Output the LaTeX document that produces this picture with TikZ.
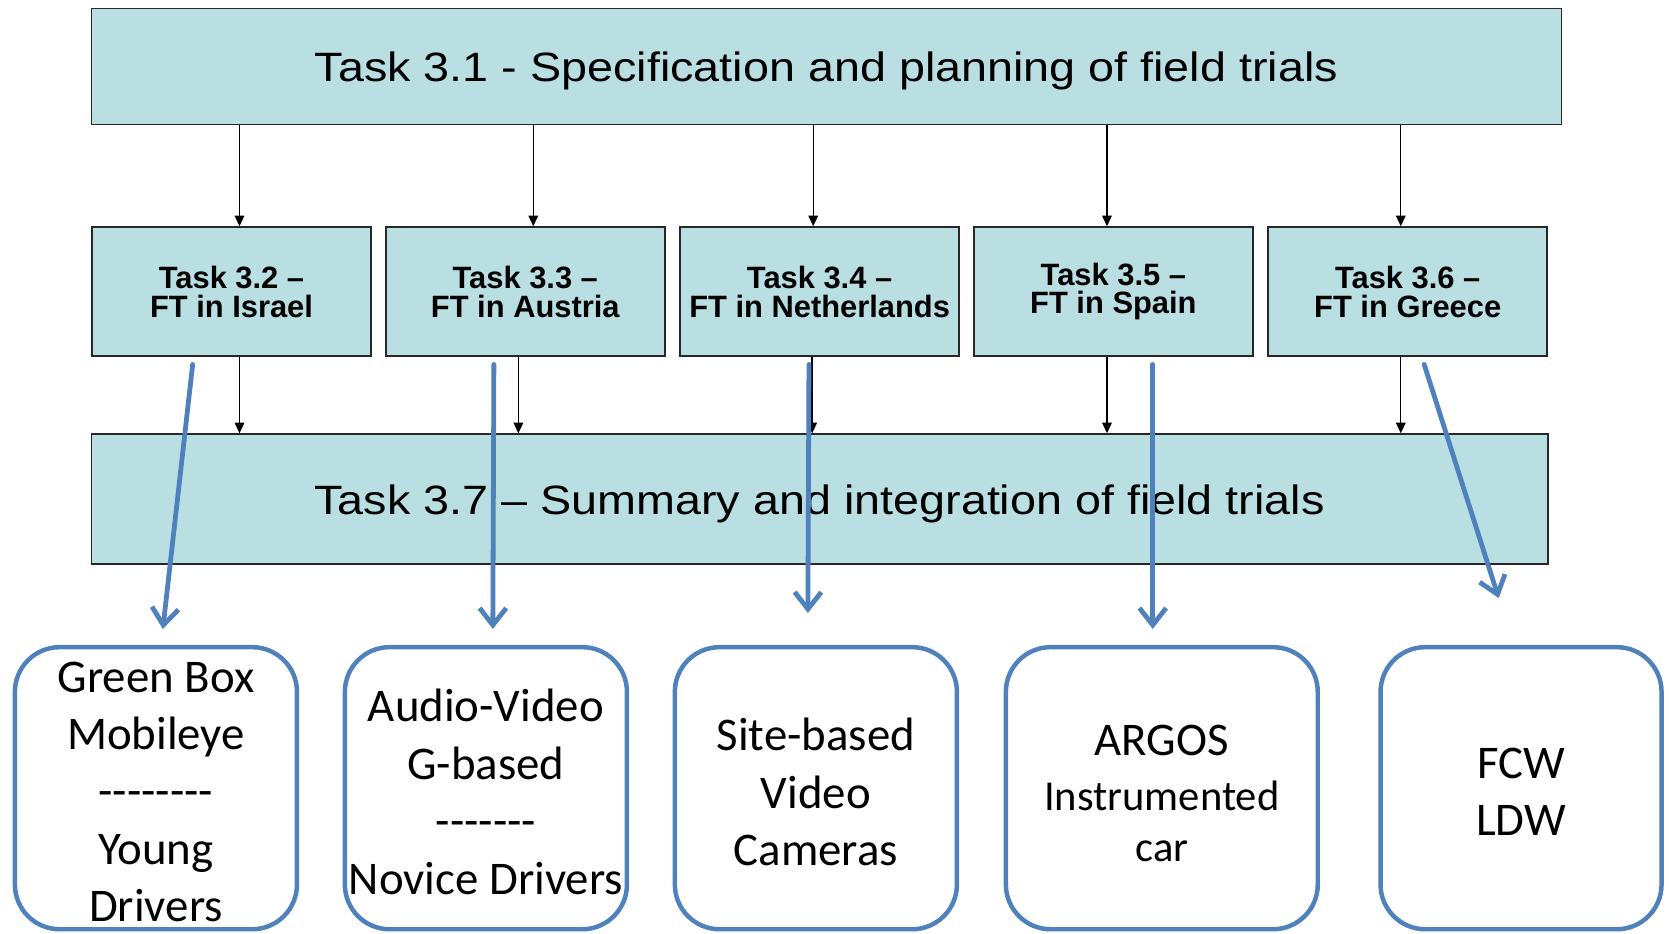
\documentclass[tikz,border=0pt]{standalone}
\usepackage{fontspec}
\setmainfont{Liberation Sans}
\newfontfamily\calib{Carlito}
\usetikzlibrary{arrows.meta,calc}
\definecolor{taskfill}{RGB}{186,223,227}
\definecolor{taskline}{RGB}{40,40,40}
\definecolor{bluel}{RGB}{79,129,189}
\begin{document}
\begin{tikzpicture}[x=1pt,y=-1pt,
  bigtask/.style={draw=taskline, fill=taskfill, line width=1.8pt, inner sep=0pt, text depth=0pt, font=\fontsize{38.5}{46}\selectfont},
  subtask/.style={draw=taskline, fill=taskfill, line width=1.8pt, inner sep=0pt, minimum width=262pt, minimum height=121pt, align=center, font=\fontsize{29}{27}\selectfont\bfseries},
  tool/.style={draw=bluel, line width=4.2pt, rounded corners=42pt, inner sep=0pt, minimum height=265pt},
  tooltext/.style={inner sep=0pt, align=center, font=\calib\fontsize{44}{54}\selectfont},
  blk/.style={line width=1.3pt, -{Triangle[length=10pt,width=9pt]}},
  blu/.style={draw=bluel, line width=4.5pt, line cap=round, -{Straight Barb[length=16pt,width=25pt]}}
]
\useasboundingbox (0,0) rectangle (1568,877);
% top and bottom task boxes
\node[bigtask, minimum width=1381pt, minimum height=109pt] (t31) at (776.5,62.5) {\scalebox{1.14}[1]{Task 3.1 - Specification and planning of field trials}};
\node[bigtask, minimum width=1368pt, minimum height=122pt] (t37) at (770,469) {\scalebox{1.14}[1]{Task 3.7 -- Summary and integration of field trials}};
% sub tasks
\node[subtask] (t32) at (217.5,274) {Task 3.2 --\\FT in Israel};
\node[subtask] (t33) at (493.5,274) {Task 3.3 --\\FT in Austria};
\node[subtask] (t34) at (770,274) {Task 3.4 --\\FT in Netherlands};
\node[subtask] (t35) at (1046,274) {Task 3.5 --\\FT in Spain};
\node[subtask] (t36) at (1322.5,274) {Task 3.6 --\\FT in Greece};
% black arrows
\coordinate (a32) at ([xshift=7.5pt]t32.north);
\coordinate (a33) at ([xshift=7.5pt]t33.north);
\coordinate (a34) at ([xshift=-6pt]t34.north);
\coordinate (a35) at ([xshift=-6pt]t35.north);
\coordinate (a36) at ([xshift=-6.5pt]t36.north);
\foreach \a in {a32,a33,a34,a35,a36} \draw[blk] (t31.south -| \a) -- (\a);
\coordinate (c32) at ([xshift=7.5pt]t32.south);
\coordinate (c33) at ([xshift=-6.5pt]t33.south);
\coordinate (c34) at ([xshift=-7pt]t34.south);
\coordinate (c35) at ([xshift=-6pt]t35.south);
\coordinate (c36) at ([xshift=-6.5pt]t36.south);
\foreach \c in {c32,c33,c34,c35,c36} \draw[blk] (\c) -- (t37.north -| \c);
% tool boxes
\node[tool, minimum width=265pt] (b1) at (146.5,740.5) {};
\node[tool, minimum width=265pt] (b2) at (456.5,740.5) {};
\node[tool, minimum width=265pt] (b3) at (766.5,740.5) {};
\node[tool, minimum width=293pt] (b4) at (1091.5,740.5) {};
\node[tool, minimum width=264pt] (b5) at (1429,740.5) {};
\node[tooltext] (b1t) at ([yshift=-3.5pt]b1.center) {Green Box\\Mobileye\\--------\\Young\\Drivers};
\node[tooltext] (b2t) at ([yshift=-3.5pt]b2.center) {Audio-Video\\G-based\\-------\\Novice Drivers};
\node[tooltext] (b3t) at ([yshift=-3.5pt]b3.center) {Site-based\\Video\\Cameras};
\node[tooltext, font=\calib\fontsize{40}{48}\selectfont] (b4t) at ([yshift=-5pt]b4.center) {{\fontsize{44}{48}\selectfont ARGOS}\\[4pt]Instrumented\\car};
\node[tooltext] (b5t) at ([yshift=-3.5pt]b5.center) {FCW\\LDW};
% blue arrows
\draw[blu] ([shift={(-36.5,7)}]t32.south) -- ([shift={(6.5,-15)}]b1.north);
\draw[blu] ([shift={(-29.5,7)}]t33.south) -- ([shift={(6.5,-15)}]b2.north);
\draw[blu] ([shift={(-10,7)}]t34.south) -- ([shift={(-7.5,-30)}]b3.north);
\draw[blu] ([shift={(37,7)}]t35.south) -- ([shift={(-8.5,-15)}]b4.north);
\draw[blu] ([shift={(15.5,7)}]t36.south) -- ([shift={(-21,-44)}]b5.north);
\end{tikzpicture}
\end{document}
